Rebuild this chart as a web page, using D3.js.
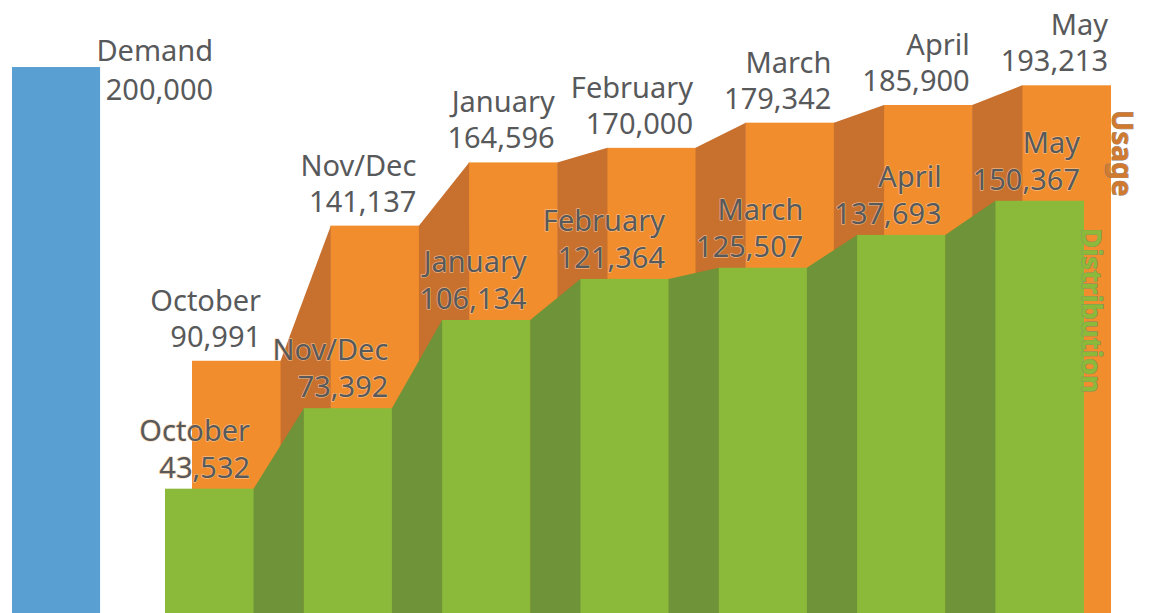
<!DOCTYPE html>
<html><head><meta charset="utf-8">
<script src="https://cdn.jsdelivr.net/npm/d3@7"></script>
<style>body{margin:0;background:#fff;overflow:hidden} svg{display:block}</style>
</head><body>
<svg id="chart" width="1150" height="613"></svg>
<script>
const months = ["October","Nov/Dec","January","February","March","April","May"];
const usage = [90991,141137,164596,170000,179342,185900,193213];
const distribution = [43532,73392,106134,121364,125507,137693,150367];
const demandName = "Demand";
const demandValue = 200000;
const seriesNames = ["Usage","Distribution"];

const W = 1150, H = 613;
const svg = d3.select("#chart");
const y = d3.scaleLinear().domain([0, 200000]).range([606, 67]);
const x = d3.scaleBand().domain(months).range([165, 1084]).paddingInner(0.356).paddingOuter(0);
const bw = x.bandwidth();
const usageShift = 27;
const fmt = d3.format(",");
const textColor = "#58595b";
const FONT = "'Noto Sans', 'Open Sans', sans-serif";

const colors = {
  blue: "#5a9fd1",
  orange: "#f18d2c", orangeDark: "#c8702e",
  green: "#8bba3a", greenDark: "#6f9339"
};

// Demand bar
const demandX = x(months[0]) - 153;
svg.append("rect").attr("x", demandX).attr("y", y(demandValue))
  .attr("width", bw - 1).attr("height", H - y(demandValue)).attr("fill", colors.blue);

function drawSeries(values, shift, light, dark) {
  const g = svg.append("g");
  const pts = months.map((m, i) => ({m, v: values[i], x0: x(m) + shift, x1: x(m) + shift + bw, yy: y(values[i])}));
  g.selectAll("rect").data(pts).join("rect")
    .attr("x", d => d.x0).attr("y", d => d.yy)
    .attr("width", bw).attr("height", d => H - d.yy).attr("fill", light);
  const links = d3.pairs(pts);
  g.selectAll("path").data(links).join("path")
    .attr("fill", dark)
    .attr("d", ([a, b]) => `M${a.x1 - 0.5},${a.yy}L${b.x0 + 0.5},${b.yy}L${b.x0 + 0.5},${H}L${a.x1 - 0.5},${H}Z`);
  return pts;
}

const uPts = drawSeries(usage, usageShift, colors.orange, colors.orangeDark);
const dPts = drawSeries(distribution, 0, colors.green, colors.greenDark);

function twoLine(g, xx, yy, name, value, gap, halo) {
  const t = g.append("g").attr("font-family", FONT).attr("font-size", 29)
    .attr("fill", textColor).attr("text-anchor", "end");
  [[name, yy - gap], [fmt(value), yy]].forEach(([s, ty]) => {
    const el = t.append("text").attr("x", xx).attr("y", ty).text(s);
    if (halo) el.attr("stroke", halo).attr("stroke-width", 1.4).attr("paint-order", "stroke").attr("stroke-linejoin", "round");
  });
}

const labels = svg.append("g");
// Demand label
twoLine(labels, demandX + bw + 112, y(demandValue) + 33, demandName, demandValue, 39, null);
// Usage labels
uPts.forEach((d, i) => twoLine(labels, d.x1 - (i === 0 ? 20 : 3), d.yy - 14, d.m, d.v, 36, null));
// Distribution labels
dPts.forEach((d, i) => twoLine(labels, d.x1 - 4, d.yy - 11, d.m, d.v, 37, "rgba(250,205,160,0.7)"));

// Series names (vertical)
const last = uPts[uPts.length - 1];
svg.append("text")
  .attr("transform", `translate(${last.x1 + 1},110) rotate(90)`)
  .attr("font-family", FONT).attr("font-weight", "bold").attr("font-size", 28)
  .attr("fill", "#d07a30").attr("stroke", "#8c7d70").attr("stroke-width", 0.8)
  .attr("paint-order", "stroke")
  .text(seriesNames[0]);
const dl = dPts[dPts.length - 1];
svg.append("text")
  .attr("transform", `translate(${dl.x1 - 2},228) rotate(90)`)
  .attr("font-family", FONT).attr("font-weight", "bold").attr("font-size", 27.5)
  .attr("fill", "#8bba3a").attr("stroke", "#7c8a6c").attr("stroke-width", 0.8)
  .attr("paint-order", "stroke")
  .text(seriesNames[1]);
</script>
</body></html>
